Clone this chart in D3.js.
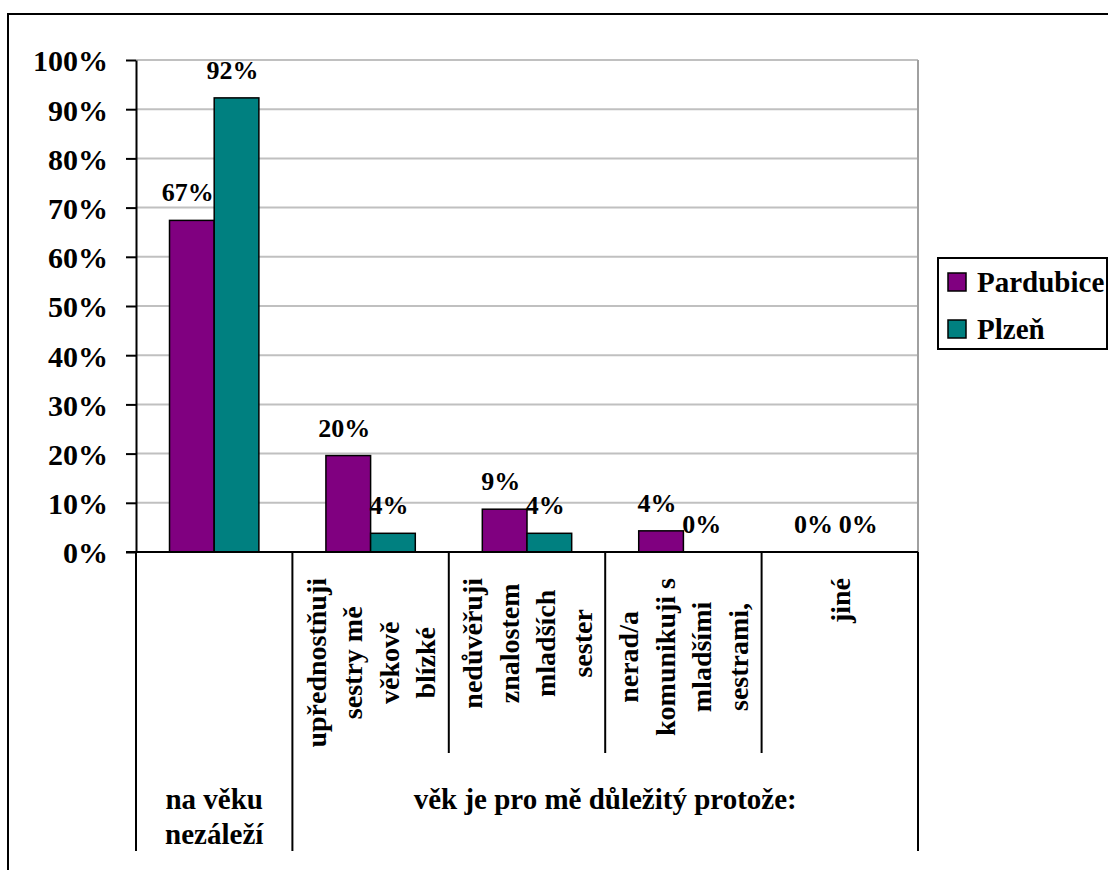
<!DOCTYPE html>
<html lang="cs">
<head>
<meta charset="utf-8">
<script src="https://cdn.jsdelivr.net/npm/d3@7"></script>
<style>
  html, body { margin: 0; padding: 0; background: #fff; }
  svg { display: block; }
</style>
</head>
<body>
<svg id="chart" width="1108" height="870"></svg>
<script>
// Answer shares for each option, by city
const categoryLines = [
  [],
  ["upřednostňuji", "sestry mě", "věkově", "blízké"],
  ["nedůvěřuji", "znalostem", "mladších", "sester"],
  ["nerad/a", "komunikuji s", "mladšími", "sestrami,"],
  ["jiné"]
];
const categoryIds = ["c0", "c1", "c2", "c3", "c4"];
const groupLabels = [
  { lines: ["na věku", "nezáleží"], from: 0, to: 0 },
  { lines: ["věk je pro mě důležitý protože:"], from: 1, to: 4 }
];
const seriesNames = ["Pardubice", "Plzeň"];
const seriesColors = ["#800080", "#008080"];
const pardubice = [0.674, 0.196, 0.087, 0.043, 0];
const plzen = [0.923, 0.038, 0.038, 0, 0];
const yTickValues = [0, 0.1, 0.2, 0.3, 0.4, 0.5, 0.6, 0.7, 0.8, 0.9, 1.0];

const seriesValues = [pardubice, plzen];
const pct = d3.format(".0%");
const FONT = "serif";

// serif bold type applied straight onto a text selection
function serif(sel, size) {
  return sel
    .attr("font-family", FONT)
    .attr("font-weight", "bold")
    .attr("font-size", size)
    .attr("fill", "#000");
}

// text width, measured on a canvas with the same type
const measureCtx = document.createElement("canvas").getContext("2d");
function textWidth(str, size) {
  measureCtx.font = `bold ${size}px ${FONT}`;
  return measureCtx.measureText(str).width;
}

const svg = d3.select("#chart");
svg.append("style").text("text { font-family: serif; font-weight: bold; }");
const plot = { left: 136, right: 918, top: 60, bottom: 552 };

// outer chart frame
svg.append("rect")
  .attr("x", 8).attr("y", 14).attr("width", 1300).attr("height", 1000)
  .attr("fill", "#fff").attr("stroke", "#000").attr("stroke-width", 2);

const x = d3.scaleBand().domain(categoryIds).range([plot.left, plot.right]).padding(0);
const xSub = d3.scaleBand().domain(seriesNames).range([0, x.bandwidth()])
  .paddingInner(0).paddingOuter(0.75);
const y = d3.scaleLinear().domain([0, 1]).range([plot.bottom, plot.top]);

// gridlines
svg.append("g").selectAll("line")
  .data(yTickValues.filter(d => d > 0))
  .join("line")
  .attr("x1", plot.left).attr("x2", plot.right)
  .attr("y1", d => y(d)).attr("y2", d => y(d))
  .attr("stroke", "#c0c0c0").attr("stroke-width", 2);

// plot area right border
svg.append("line")
  .attr("x1", plot.right).attr("x2", plot.right)
  .attr("y1", plot.top).attr("y2", plot.bottom)
  .attr("stroke", "#a0a0a0").attr("stroke-width", 2);

// bars
const barData = [];
seriesNames.forEach((s, si) => {
  categoryIds.forEach((c, ci) => {
    barData.push({ s, si, c, v: seriesValues[si][ci] });
  });
});

svg.append("g").selectAll("rect")
  .data(barData.filter(d => d.v > 0))
  .join("rect")
  .attr("x", d => x(d.c) + xSub(d.s))
  .attr("width", xSub.bandwidth())
  .attr("y", d => y(d.v))
  .attr("height", d => y(0) - y(d.v))
  .attr("fill", d => seriesColors[d.si])
  .attr("stroke", "#000").attr("stroke-width", 1.5);

// value labels
svg.append("g").selectAll("text")
  .data(barData)
  .join("text")
  .attr("x", d => x(d.c) + xSub(d.s) + xSub.bandwidth() / 2 - 4)
  .attr("y", d => y(d.v) - 19)
  .attr("text-anchor", "middle")
  .call(serif, 26)
  .text(d => pct(d.v));

// y axis
const yAxis = d3.axisLeft(y)
  .tickValues(yTickValues)
  .tickFormat(pct)
  .tickSize(10)
  .tickSizeOuter(0)
  .tickPadding(18);
const gy = svg.append("g").attr("transform", `translate(${plot.left},0)`).call(yAxis)
  .attr("font-family", FONT);
gy.select(".domain").attr("stroke", "#000").attr("stroke-width", 2);
gy.selectAll(".tick line").attr("stroke", "#000").attr("stroke-width", 2);
gy.selectAll(".tick text")
  .attr("dy", "0.36em")
  .call(serif, 30);

// category axis baseline
svg.append("line")
  .attr("x1", plot.left - 10).attr("x2", plot.right)
  .attr("y1", plot.bottom).attr("y2", plot.bottom)
  .attr("stroke", "#000").attr("stroke-width", 2);

// category dividers: group edges run long, inner ones short
const edges = categoryIds.map(c => x(c)).concat([plot.right]);
const groupEdgeIdx = new Set();
groupLabels.forEach(g => { groupEdgeIdx.add(g.from); groupEdgeIdx.add(g.to + 1); });
svg.append("g").selectAll("line")
  .data(edges.map((e, i) => ({ e, long: groupEdgeIdx.has(i) })))
  .join("line")
  .attr("x1", d => d.e).attr("x2", d => d.e)
  .attr("y1", plot.bottom)
  .attr("y2", d => d.long ? 851 : 753)
  .attr("stroke", "#000").attr("stroke-width", 2);

// rotated category labels, lines centred on the longest one
const lineStep = 36.5;
const labelTop = 578;
const catSize = 28;
categoryIds.forEach((c, ci) => {
  const lines = categoryLines[ci];
  if (!lines.length) return;
  const cx = x(c) + x.bandwidth() / 2;
  const longest = d3.max(lines, l => textWidth(l, catSize));
  const midY = labelTop + longest / 2;
  svg.append("g").selectAll("text")
    .data(lines)
    .join("text")
    .attr("text-anchor", "middle")
    .attr("dy", "0.35em")
    .attr("transform", (d, i) => {
      const lx = cx + (i - (lines.length - 1) / 2) * lineStep;
      return `translate(${lx},${midY}) rotate(-90)`;
    })
    .call(serif, catSize)
    .text(d => d);
});

// second-level group labels
groupLabels.forEach(gl => {
  const x0 = x(categoryIds[gl.from]);
  const x1 = x(categoryIds[gl.to]) + x.bandwidth();
  svg.append("g").selectAll("text")
    .data(gl.lines)
    .join("text")
    .attr("x", (x0 + x1) / 2)
    .attr("y", (d, i) => 809 + i * 35)
    .attr("text-anchor", "middle")
    .call(serif, 29)
    .text(d => d);
});

// legend
const legend = svg.append("g");
legend.append("rect")
  .attr("x", 938).attr("y", 258).attr("width", 169).attr("height", 91)
  .attr("fill", "#fff").attr("stroke", "#000").attr("stroke-width", 2);
const li = legend.selectAll("g.item")
  .data(seriesNames)
  .join("g").attr("class", "item")
  .attr("transform", (d, i) => `translate(948,${273 + i * 47})`);
li.append("rect")
  .attr("width", 18).attr("height", 18)
  .attr("fill", (d, i) => seriesColors[i])
  .attr("stroke", "#000").attr("stroke-width", 1.5);
li.append("text")
  .attr("x", 29).attr("y", 19)
  .call(serif, 29)
  .text(d => d);
</script>
</body>
</html>
